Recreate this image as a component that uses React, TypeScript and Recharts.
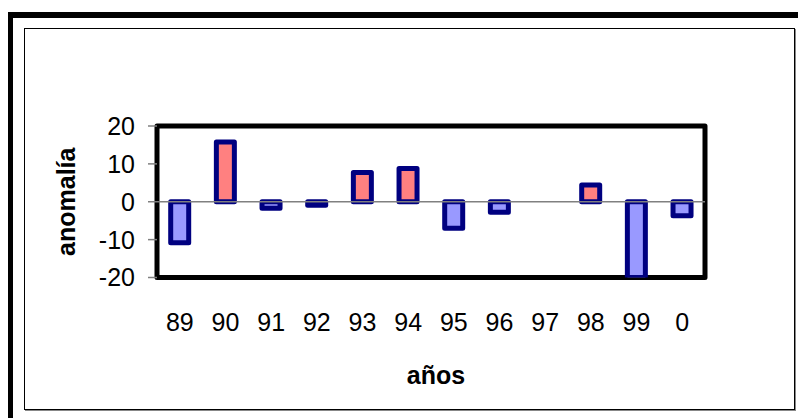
import React from "react";
import {
  BarChart,
  Bar,
  Cell,
  XAxis,
  YAxis,
  ReferenceLine,
  ReferenceArea,
} from "recharts";

const years = ["89", "90", "91", "92", "93", "94", "95", "96", "97", "98", "99", "0"];
const anomalies = [-10.8, 15.8, -1.7, -0.9, 7.7, 8.8, -7.0, -2.8, null, 4.4, -20, -3.7];
const yTicks = [-20, -10, 0, 10, 20];

const data = years.map((year, i) => ({ year, value: anomalies[i] }));

const font = "'Liberation Sans', Arial, sans-serif";

const XTitle = (props: any) => {
  const vb = props.viewBox;
  return (
    <text
      x={vb.x + vb.width / 2 + 5}
      y={vb.y + 106}
      textAnchor="middle"
      fontSize={25}
      fontWeight="bold"
      fontFamily={font}
      fill="#000"
    >
      años
    </text>
  );
};

const YTitle = (props: any) => {
  const vb = props.viewBox;
  const x = vb.x + 75;
  const y = vb.y + vb.height / 2;
  return (
    <text
      x={x}
      y={y}
      transform={`rotate(-90, ${x}, ${y})`}
      textAnchor="middle"
      fontSize={25}
      fontWeight="bold"
      fontFamily={font}
      fill="#000"
    >
      anomalía
    </text>
  );
};

export default function App() {
  return (
    <div
      style={{
        position: "absolute",
        left: 0,
        top: 0,
        width: 798,
        height: 418,
        overflow: "hidden",
        background: "#fff",
      }}
    >
      {/* outer heavy frame */}
      <div
        style={{
          position: "absolute",
          left: 8,
          top: 12,
          width: 900,
          height: 500,
          borderTop: "6px solid #000",
          borderLeft: "5px solid #000",
        }}
      />
      {/* inner chart area frame */}
      <div
        style={{
          position: "absolute",
          left: 24,
          top: 28,
          width: 769,
          height: 380,
          border: "1px solid #000",
          boxShadow: "1px 1px 0 #888",
        }}
      />
      <div style={{ position: "absolute", left: 0, top: 0 }}>
        <BarChart
          width={798}
          height={418}
          data={data}
          margin={{ top: 126, right: 93, left: 0, bottom: 34 }}
          barCategoryGap="30%"
        >
          <XAxis
            dataKey="year"
            height={106.5}
            axisLine={false}
            tickLine={false}
            tickSize={0}
            tickMargin={36}
            interval={0}
            tick={{ fontSize: 25, fill: "#000", fontFamily: font }}
            label={<XTitle />}
          />
          <YAxis
            width={157}
            domain={[-20, 20]}
            ticks={yTicks}
            allowDataOverflow
            axisLine={false}
            tickLine={{ stroke: "#808080", strokeWidth: 1.5 }}
            tickSize={9}
            tickMargin={13}
            tick={{ fontSize: 25, fill: "#000", fontFamily: font }}
            label={<YTitle />}
          />
          <ReferenceLine y={0} stroke="#808080" strokeWidth={1.5} />
          <ReferenceArea
            y1={-20}
            y2={20}
            fill="none"
            stroke="#000"
            strokeWidth={5}
            strokeLinejoin="round"
            ifOverflow="visible"
          />
          <Bar
            dataKey="value"
            stroke="#000080"
            strokeWidth={5}
            strokeLinejoin="round"
            isAnimationActive={false}
          >
            {data.map((d, i) => (
              <Cell key={i} fill={d.value !== null && d.value >= 0 ? "#FF8080" : "#9999FF"} />
            ))}
          </Bar>
        </BarChart>
      </div>
    </div>
  );
}
